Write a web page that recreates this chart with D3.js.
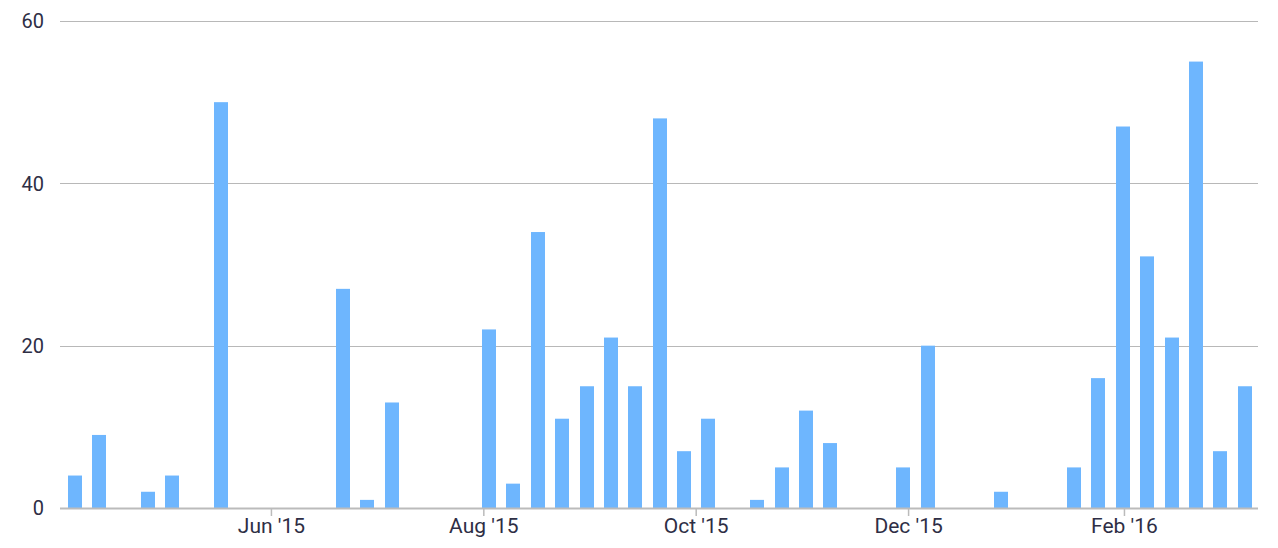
<!DOCTYPE html>
<html>
<head>
<meta charset="utf-8">
<script src="https://cdn.jsdelivr.net/npm/d3@7"></script>
<style>
  html, body { margin: 0; padding: 0; background: #fff; }
  svg { display: block; }
  .lbl { font-family: Roboto, "DejaVu Sans", sans-serif; fill: #2e2e45; }
</style>
</head>
<body>
<svg id="chart" width="1278" height="548"></svg>
<script>
// Weekly buckets (week starting Sunday)
const weeks = [
  "2015-04-05","2015-04-12","2015-04-19","2015-04-26",
  "2015-05-03","2015-05-10","2015-05-17","2015-05-24","2015-05-31",
  "2015-06-07","2015-06-14","2015-06-21","2015-06-28",
  "2015-07-05","2015-07-12","2015-07-19","2015-07-26",
  "2015-08-02","2015-08-09","2015-08-16","2015-08-23","2015-08-30",
  "2015-09-06","2015-09-13","2015-09-20","2015-09-27",
  "2015-10-04","2015-10-11","2015-10-18","2015-10-25",
  "2015-11-01","2015-11-08","2015-11-15","2015-11-22","2015-11-29",
  "2015-12-06","2015-12-13","2015-12-20","2015-12-27",
  "2016-01-03","2016-01-10","2016-01-17","2016-01-24","2016-01-31",
  "2016-02-07","2016-02-14","2016-02-21","2016-02-28",
  "2016-03-06"
];
const counts = [
  4, 9, 0, 2,
  4, 0, 50, 0, 0,
  0, 0, 27, 1,
  13, 0, 0, 0,
  22, 3, 34, 11, 15,
  21, 15, 48, 7,
  11, 0, 1, 5,
  12, 8, 0, 0, 5,
  20, 0, 0, 2,
  0, 0, 5, 16, 47,
  31, 21, 55, 7,
  15
];
const xTickDates = ["2015-06-01","2015-08-01","2015-10-01","2015-12-01","2016-02-01"];
const yTicks = [0, 20, 40, 60];

(function () {
const parse = d3.utcParse("%Y-%m-%d");
const data = weeks.map((w, i) => ({ date: parse(w), value: counts[i] }));

const svg = d3.select("#chart");
const mLeft = 60, mRight = 1258, mTop = 21, mBottom = 508;

const x = d3.scaleUtc()
  .domain([new Date(Date.UTC(2015, 3, 1, 10)), new Date(Date.UTC(2016, 2, 10, 12))])
  .range([mLeft, mRight]);
const y = d3.scaleLinear().domain([0, 60]).range([mBottom, mTop]);
const barW = 14;
const barOffset = 16 * 3600 * 1000;

// gridlines
svg.append("g").selectAll("line")
  .data(yTicks.filter(t => t > 0))
  .join("line")
  .attr("x1", mLeft).attr("x2", mRight)
  .attr("y1", d => Math.round(y(d)) + 0.5)
  .attr("y2", d => Math.round(y(d)) + 0.5)
  .attr("stroke", "#b8b8b8").attr("stroke-width", 1);

// bars
svg.append("g").selectAll("rect")
  .data(data.filter(d => d.value > 0))
  .join("rect")
  .attr("x", d => Math.round(x(new Date(+d.date + barOffset)) - barW / 2))
  .attr("width", barW)
  .attr("y", d => y(d.value))
  .attr("height", d => y(0) - y(d.value))
  .attr("fill", "#6eb6fe");

// baseline
svg.append("line")
  .attr("x1", mLeft).attr("x2", mRight)
  .attr("y1", mBottom + 0.5).attr("y2", mBottom + 0.5)
  .attr("stroke", "#bbbbbb").attr("stroke-width", 2);

// x axis
const fmt = d3.utcFormat("%b '%y");
const xAxis = d3.axisBottom(x)
  .tickValues(xTickDates.map(parse))
  .tickFormat(fmt)
  .tickSize(7)
  .tickPadding(2);
const gx = svg.append("g").attr("transform", `translate(0,${mBottom + 1})`).call(xAxis);
gx.select(".domain").remove();
gx.selectAll(".tick line").attr("stroke", "#bbbbbb").attr("stroke-width", 1.5);
gx.selectAll(".tick text")
  .attr("class", "lbl")
  .style("font-size", "21px")
  .attr("fill", "#2e2e45");

// y labels
svg.append("g").selectAll("text")
  .data(yTicks)
  .join("text")
  .attr("class", "lbl")
  .attr("x", 44)
  .attr("y", d => y(d))
  .attr("dy", "0.36em")
  .attr("text-anchor", "end")
  .style("font-size", "20px")
  .text(d => d);
})();
</script>
</body>
</html>
